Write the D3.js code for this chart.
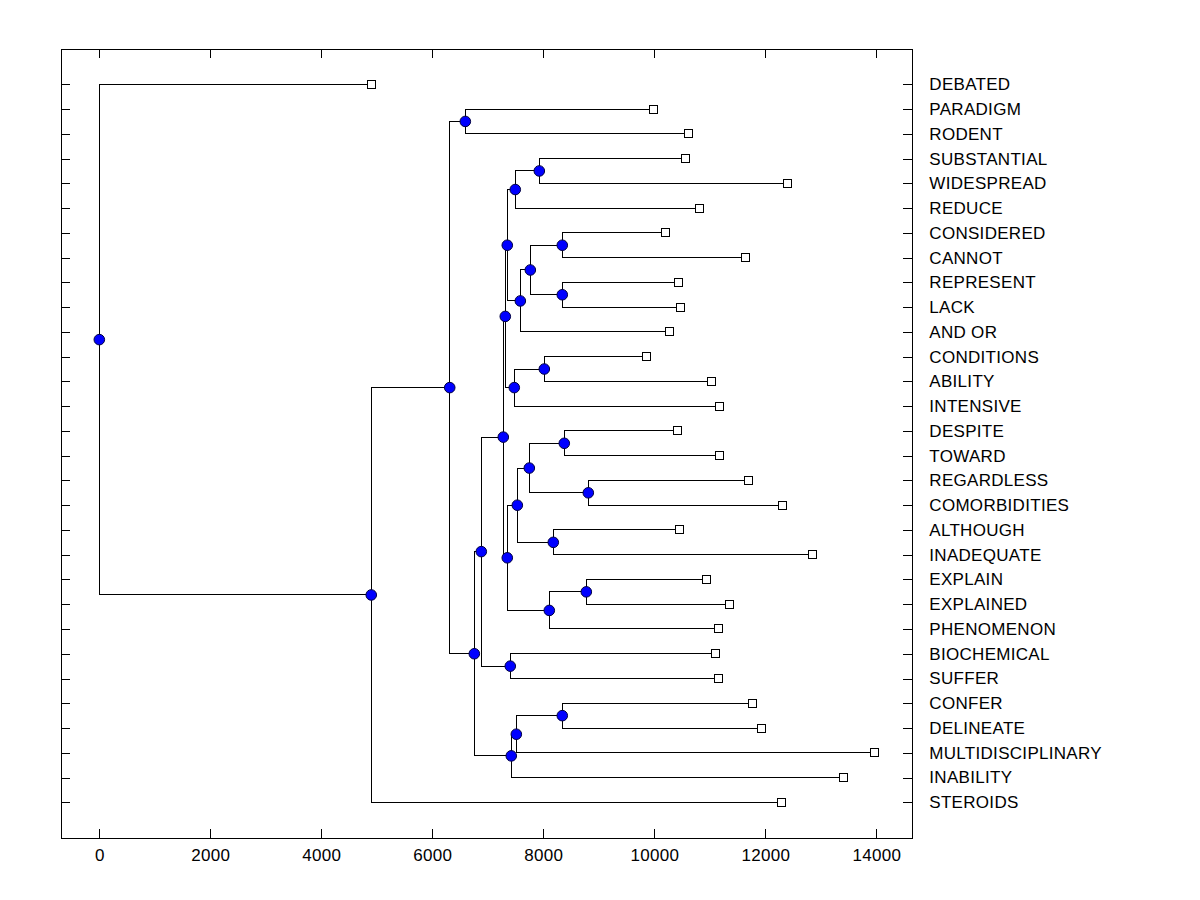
<!DOCTYPE html>
<html>
<head>
<meta charset="utf-8">
<script src="https://cdn.jsdelivr.net/npm/d3@7/dist/d3.min.js"></script>
<style>
html,body{margin:0;padding:0;background:#fff;}
svg{display:block;}
text{font-family:"Liberation Sans",Arial,sans-serif;fill:#000;}
</style>
</head>
<body>
<svg id="chart" width="1200" height="900"></svg>
<script>
// Leaves, top to bottom, with their distance values
const leafNames = ["DEBATED","PARADIGM","RODENT","SUBSTANTIAL","WIDESPREAD","REDUCE","CONSIDERED","CANNOT","REPRESENT","LACK","AND OR","CONDITIONS","ABILITY","INTENSIVE","DESPITE","TOWARD","REGARDLESS","COMORBIDITIES","ALTHOUGH","INADEQUATE","EXPLAIN","EXPLAINED","PHENOMENON","BIOCHEMICAL","SUFFER","CONFER","DELINEATE","MULTIDISCIPLINARY","INABILITY","STEROIDS"];
const leafValues = [4901,9982,10613,10559,12396,10811,10198,11640,10432,10468,10270,9856,11027,11171,10414,11171,11694,12306,10450,12847,10937,11351,11153,11099,11153,11766,11928,13964,13405,12288];

// Internal nodes: id, children, value
const nodeIds = ["root","n4900","n6314","A","W","M","L","I","D","C","B","H","G","E","F","K","J","N","S","Q","O","P","R","T","U","V","X","Z","Y"];
const nodeChildren = [
  ["DEBATED","n4900"],["n6314","STEROIDS"],["A","W"],["PARADIGM","RODENT"],["M","X"],["L","V"],["I","N"],["D","K"],["C","H"],["B","REDUCE"],["SUBSTANTIAL","WIDESPREAD"],["G","AND OR"],["E","F"],["CONSIDERED","CANNOT"],["REPRESENT","LACK"],["J","INTENSIVE"],["CONDITIONS","ABILITY"],["S","T"],["Q","R"],["O","P"],["DESPITE","TOWARD"],["REGARDLESS","COMORBIDITIES"],["ALTHOUGH","INADEQUATE"],["U","PHENOMENON"],["EXPLAIN","EXPLAINED"],["BIOCHEMICAL","SUFFER"],["Z","INABILITY"],["Y","MULTIDISCIPLINARY"],["CONFER","DELINEATE"]
];
const nodeValues = [0,4900,6314,6595,6757,6883,7279,7315,7351,7495,7928,7586,7766,8342,8342,7477,8018,7351,7532,7748,8378,8811,8180,8108,8775,7405,7423,7514,8342];

const xTicks = [0,2000,4000,6000,8000,10000,12000,14000];

// Build tree
const lookup = {};
leafNames.forEach((n,i)=>{ lookup[n] = {name:n, value:leafValues[i], index:i, leaf:true}; });
nodeIds.forEach((n,i)=>{ lookup[n] = {name:n, value:nodeValues[i], leaf:false}; });
nodeIds.forEach((n,i)=>{ lookup[n].children = nodeChildren[i].map(c=>lookup[c]); });
const root = d3.hierarchy(lookup["root"], d=>d.children);

const L = 61.3, R = 912.3, T = 49.3, B = 838;
const x = d3.scaleLinear().domain([-685,14649]).range([L,R]);
const y = d3.scaleLinear().domain([0,leafNames.length-1]).range([84.3,802.3]);

// y positions: leaves by index, internal = mean of children
root.eachAfter(d=>{
  d.px = x(d.data.value);
  if (!d.children) d.py = y(d.data.index);
  else d.py = d3.mean(d.children, c=>c.py);
});

const svg = d3.select("#chart");
const g = svg.append("g");
const FONT = "'Liberation Sans',Arial,sans-serif";

// Frame
g.append("rect").attr("x",L).attr("y",T).attr("width",R-L).attr("height",B-T)
 .attr("fill","none").attr("stroke","#000").attr("stroke-width",1).attr("shape-rendering","crispEdges");

// Bottom axis
const bottomAxis = d3.axisBottom(x).tickValues(xTicks).tickFormat(d3.format("d")).tickSizeInner(-9).tickSizeOuter(0).tickPadding(11);
const ba = g.append("g").attr("transform",`translate(0,${B})`).call(bottomAxis);
ba.select(".domain").remove();
ba.selectAll("line").attr("stroke","#000").attr("shape-rendering","crispEdges");
ba.selectAll("text").attr("font-size",17).attr("letter-spacing","0.3px").attr("font-family",FONT).attr("fill","#000");

// Top axis ticks (no labels)
const topAxis = d3.axisTop(x).tickValues(xTicks).tickFormat("").tickSizeInner(-9).tickSizeOuter(0);
const ta = g.append("g").attr("transform",`translate(0,${T})`).call(topAxis);
ta.select(".domain").remove();
ta.selectAll("line").attr("stroke","#000").attr("shape-rendering","crispEdges");

// Left ticks
const yIdx = d3.range(leafNames.length);
const leftAxis = d3.axisLeft(y).tickValues(yIdx).tickFormat("").tickSizeInner(-9).tickSizeOuter(0);
const la = g.append("g").attr("transform",`translate(${L},0)`).call(leftAxis);
la.select(".domain").remove();
la.selectAll("line").attr("stroke","#000").attr("shape-rendering","crispEdges");

// Right ticks with labels
const rightAxis = d3.axisRight(y).tickValues(yIdx).tickFormat(i=>leafNames[i]).tickSizeInner(-9).tickSizeOuter(0).tickPadding(17);
const ra = g.append("g").attr("transform",`translate(${R},0)`).call(rightAxis);
ra.select(".domain").remove();
ra.selectAll("line").attr("stroke","#000").attr("shape-rendering","crispEdges");
ra.selectAll("text").attr("font-size",17).attr("letter-spacing","0.3px").attr("font-family",FONT).attr("fill","#000").attr("x",17);

// Dendrogram links
const links = g.append("g").attr("stroke","#000").attr("stroke-width",1).attr("fill","none").attr("shape-rendering","crispEdges");
root.descendants().filter(d=>d.children).forEach(d=>{
  const ys = d.children.map(c=>c.py);
  links.append("line").attr("x1",d.px).attr("x2",d.px).attr("y1",d3.min(ys)).attr("y2",d3.max(ys));
  d.children.forEach(c=>{
    links.append("line").attr("x1",d.px).attr("x2",c.px).attr("y1",c.py).attr("y2",c.py);
  });
});

// Leaf squares
g.append("g").selectAll("rect").data(root.leaves()).join("rect")
  .attr("x",d=>d.px-4).attr("y",d=>d.py-4).attr("width",8).attr("height",8)
  .attr("fill","#fff").attr("stroke","#000").attr("stroke-width",1).attr("shape-rendering","crispEdges");

// Internal node circles
g.append("g").selectAll("circle").data(root.descendants().filter(d=>d.children)).join("circle")
  .attr("cx",d=>d.px).attr("cy",d=>d.py).attr("r",5.3)
  .attr("fill","#0000ff").attr("stroke","#000040").attr("stroke-width",1);
</script>
</body>
</html>
